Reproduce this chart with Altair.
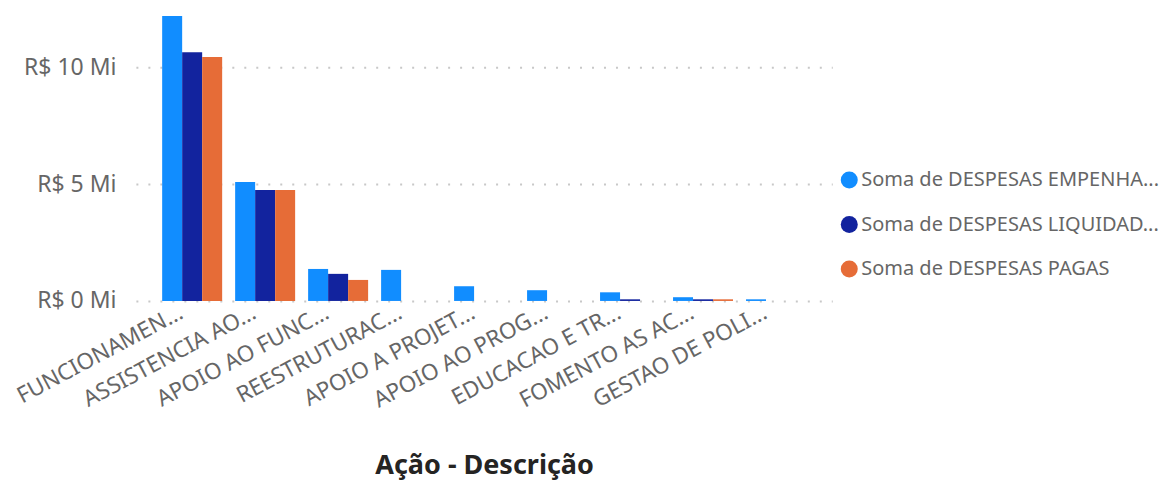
import altair as alt
import pandas as pd

categories = ["FUNCIONAMEN...", "ASSISTENCIA AO...", "APOIO AO FUNC...", "REESTRUTURAC...",
              "APOIO A PROJET...", "APOIO AO PROG...", "EDUCACAO E TR...", "FOMENTO AS AC...",
              "GESTAO DE POLI..."]
series = ["Soma de DESPESAS EMPENHA...", "Soma de DESPESAS LIQUIDAD...", "Soma de DESPESAS PAGAS"]
empenhadas = [12.2e6, 5.09e6, 1.37e6, 1.33e6, 0.63e6, 0.46e6, 0.37e6, 0.16e6, 0.07e6]
liquidadas = [10.65e6, 4.75e6, 1.16e6, 0, 0, 0, 0.07e6, 0.07e6, 0]
pagas = [10.44e6, 4.75e6, 0.90e6, 0, 0, 0, 0, 0.07e6, 0]
colors = ["#118DFF", "#12239E", "#E66C37"]

rows = []
for s, vals in zip(series, [empenhadas, liquidadas, pagas]):
    for c, v in zip(categories, vals):
        rows.append({"cat": c, "serie": s, "valor": v})
df = pd.DataFrame(rows)

font = "Segoe UI, Noto Sans, Open Sans, sans-serif"

chart = alt.Chart(df).mark_bar().encode(
    x=alt.X("cat:N", sort=categories, title="Ação - Descrição",
            scale=alt.Scale(paddingInner=0.178, paddingOuter=0.36),
            axis=alt.Axis(labelAngle=-28, labelFontSize=22.5, labelColor="#666666",
                          labelFont=font, ticks=False, domain=False, labelPadding=0,
                          labelOffset=-16, labelLimit=300,
                          titleFont=font, titleFontSize=27, titleFontWeight="bold",
                          titleColor="#252423", titlePadding=41)),
    xOffset=alt.XOffset("serie:N", sort=series),
    y=alt.Y("valor:Q", title=None,
            scale=alt.Scale(domain=[0, 12.32e6], nice=False),
            axis=alt.Axis(values=[0, 5e6, 10e6], labelExpr="'R$ ' + datum.value/1000000 + ' Mi'",
                          labelFontSize=23, labelColor="#666666", labelFont=font,
                          ticks=False, domain=False, labelPadding=20, minExtent=122,
                          grid=True, gridColor="#C8C8C8", gridDash=[2, 10], gridWidth=2)),
    color=alt.Color("serie:N", sort=series, title=None,
                    scale=alt.Scale(domain=series, range=colors),
                    legend=alt.Legend(orient="none", legendX=704, legendY=157,
                                      symbolType="circle", symbolSize=290,
                                      symbolStrokeWidth=0, symbolOpacity=1,
                                      labelFontSize=20, labelColor="#666666", labelFont=font,
                                      rowPadding=24.5, labelOffset=2, labelLimit=400)),
).properties(
    width=697, height=288,
    padding={"left": 5, "top": 5, "right": 0, "bottom": 5},
).configure_view(stroke=None)

chart.save("out.html", embed_options={"renderer": "svg", "actions": False})
